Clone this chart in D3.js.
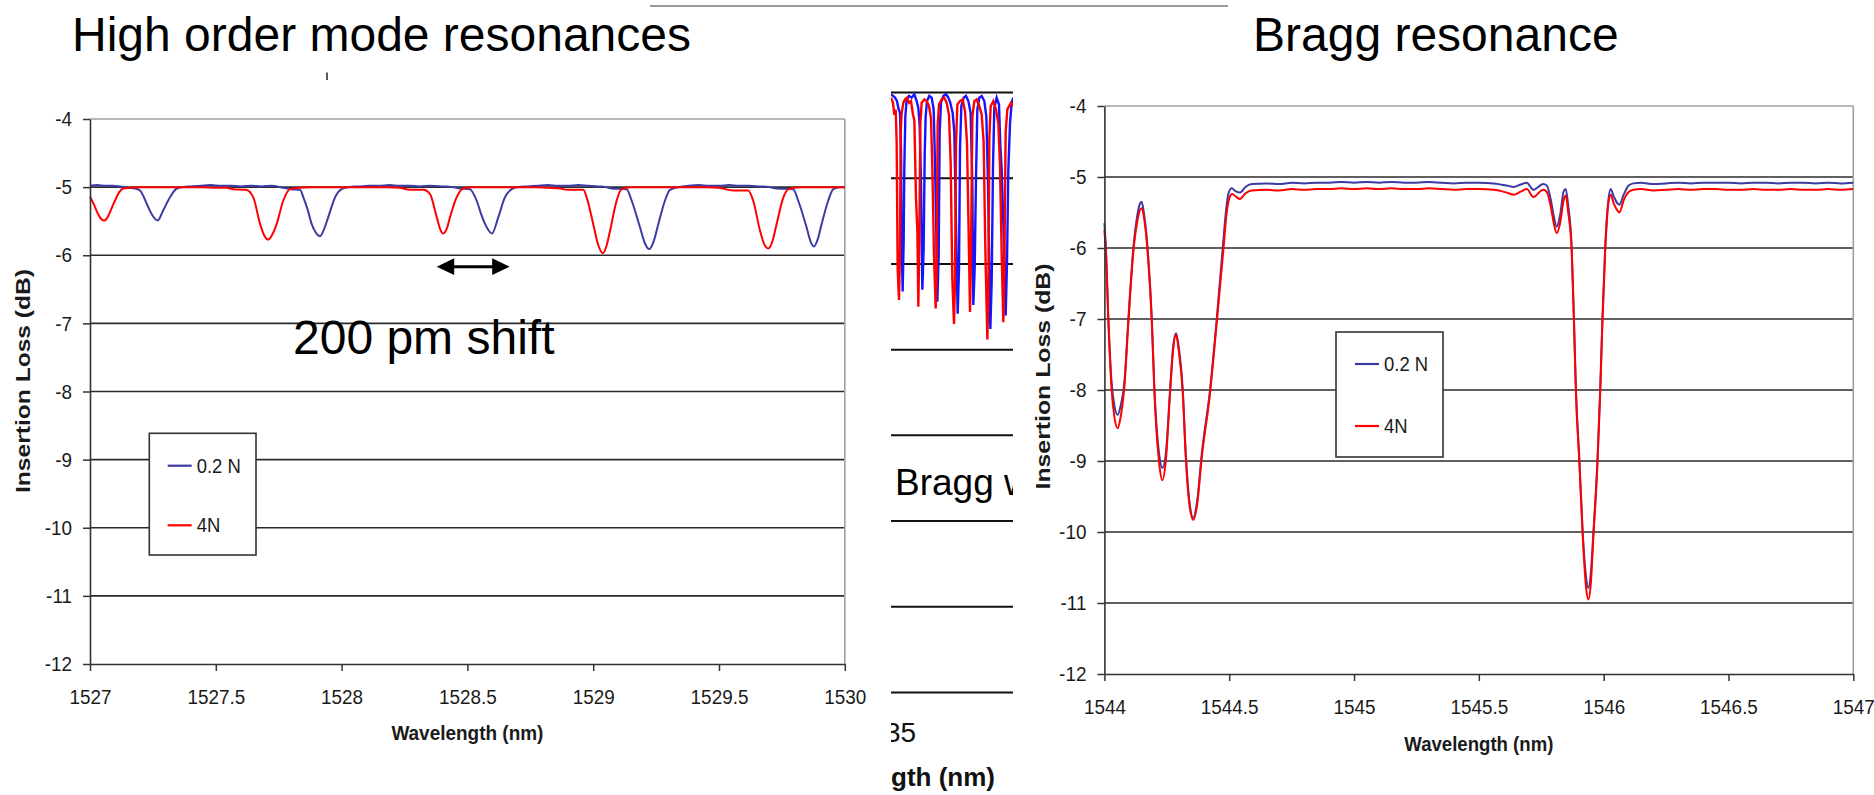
<!DOCTYPE html>
<html>
<head>
<meta charset="utf-8">
<script src="https://cdn.jsdelivr.net/npm/d3@7"></script>
<style>
  body { margin: 0; background: #fff; }
  svg { display: block; }
  text { font-family: "Liberation Sans", Arial, Helvetica, sans-serif; }
</style>
</head>
<body>
<svg id="fig" width="1874" height="795"></svg>
<script>
// ---- axis ticks and labels ----
const lossTicks = [-4, -5, -6, -7, -8, -9, -10, -11, -12];
const hiWaveTicks = [1527, 1527.5, 1528, 1528.5, 1529, 1529.5, 1530];
const braggWaveTicks = [1544, 1544.5, 1545, 1545.5, 1546, 1546.5, 1547];
const seriesLabels = ["0.2 N", "4N"];
const sideLossGrid = [0, -5, -10, -15, -20, -25, -30, -35];
const sideWaveTick = [1535];
const shiftArrow = [1528.378, 1528.668];

// ---- high order mode resonances: [wavelength nm, insertion loss dB] ----
const hiBlue = [
  [1527.000,-4.98],[1527.030,-4.97],[1527.060,-4.98],[1527.090,-4.98],[1527.120,-4.99],[1527.150,-5.01],
  [1527.180,-5.02],[1527.199,-5.05],[1527.212,-5.13],[1527.225,-5.24],[1527.249,-5.42],[1527.269,-5.49],
  [1527.291,-5.34],[1527.318,-5.15],[1527.345,-5.02],[1527.370,-5.00],[1527.400,-4.99],[1527.440,-4.98],
  [1527.480,-4.97],[1527.520,-4.98],[1527.560,-4.98],[1527.600,-4.99],[1527.640,-4.98],[1527.680,-4.99],
  [1527.720,-4.98],[1527.768,-5.01],[1527.800,-5.03],[1527.835,-5.04],[1527.848,-5.15],[1527.865,-5.33],
  [1527.881,-5.54],[1527.898,-5.67],[1527.914,-5.72],[1527.930,-5.62],[1527.947,-5.44],[1527.974,-5.15],
  [1528.000,-5.03],[1528.030,-5.00],[1528.070,-4.99],[1528.110,-4.98],[1528.150,-4.98],[1528.190,-4.97],
  [1528.230,-4.98],[1528.270,-4.98],[1528.310,-4.99],[1528.350,-4.98],[1528.400,-4.99],[1528.440,-5.00],
  [1528.471,-5.02],[1528.510,-5.03],[1528.537,-5.20],[1528.555,-5.40],[1528.570,-5.54],[1528.598,-5.68],
  [1528.623,-5.44],[1528.649,-5.15],[1528.676,-5.03],[1528.700,-5.00],[1528.740,-4.99],[1528.780,-4.98],
  [1528.820,-4.97],[1528.860,-4.98],[1528.900,-4.98],[1528.940,-4.97],[1528.980,-4.98],[1529.020,-4.99],
  [1529.050,-5.00],[1529.073,-5.02],[1529.133,-5.03],[1529.153,-5.20],[1529.186,-5.59],[1529.205,-5.82],
  [1529.223,-5.91],[1529.240,-5.80],[1529.259,-5.54],[1529.285,-5.20],[1529.305,-5.04],[1529.340,-5.00],
  [1529.380,-4.98],[1529.420,-4.97],[1529.460,-4.98],[1529.500,-4.98],[1529.540,-4.97],[1529.580,-4.98],
  [1529.620,-4.98],[1529.660,-4.99],[1529.700,-5.00],[1529.729,-5.02],[1529.795,-5.03],[1529.815,-5.20],
  [1529.848,-5.59],[1529.864,-5.80],[1529.877,-5.87],[1529.893,-5.76],[1529.908,-5.54],[1529.934,-5.20],
  [1529.954,-5.03],[1529.980,-5.00],[1530.000,-5.00]
];
const hiRed = [
  [1527.000,-5.14],[1527.015,-5.25],[1527.030,-5.38],[1527.045,-5.47],[1527.057,-5.49],[1527.070,-5.44],
  [1527.085,-5.32],[1527.099,-5.20],[1527.115,-5.08],[1527.132,-5.02],[1527.160,-5.01],[1527.200,-5.00],
  [1527.250,-5.00],[1527.300,-5.00],[1527.350,-5.00],[1527.400,-5.00],[1527.450,-5.00],[1527.500,-5.01],
  [1527.540,-5.01],[1527.570,-5.03],[1527.620,-5.04],[1527.649,-5.15],[1527.676,-5.54],[1527.694,-5.72],
  [1527.709,-5.77],[1527.724,-5.70],[1527.742,-5.54],[1527.768,-5.20],[1527.795,-5.03],[1527.830,-5.01],
  [1527.880,-5.00],[1527.930,-5.00],[1527.980,-5.00],[1528.030,-5.00],[1528.080,-5.00],[1528.130,-5.00],
  [1528.180,-5.00],[1528.230,-5.01],[1528.272,-5.04],[1528.325,-5.04],[1528.351,-5.10],[1528.378,-5.44],
  [1528.392,-5.62],[1528.404,-5.68],[1528.418,-5.61],[1528.431,-5.44],[1528.457,-5.15],[1528.484,-5.02],
  [1528.520,-5.00],[1528.570,-5.00],[1528.620,-5.00],[1528.670,-5.00],[1528.720,-5.00],[1528.770,-5.00],
  [1528.820,-5.01],[1528.870,-5.02],[1528.895,-5.04],[1528.961,-5.04],[1528.974,-5.15],[1529.000,-5.54],
  [1529.020,-5.85],[1529.038,-5.97],[1529.053,-5.86],[1529.067,-5.64],[1529.093,-5.20],[1529.113,-5.03],
  [1529.150,-5.00],[1529.200,-5.00],[1529.250,-5.00],[1529.300,-5.00],[1529.350,-5.00],[1529.400,-5.00],
  [1529.450,-5.00],[1529.500,-5.01],[1529.557,-5.05],[1529.616,-5.05],[1529.636,-5.20],[1529.663,-5.64],
  [1529.680,-5.84],[1529.696,-5.90],[1529.712,-5.80],[1529.729,-5.54],[1529.756,-5.15],[1529.776,-5.03],
  [1529.820,-5.00],[1529.870,-5.00],[1529.920,-5.00],[1529.970,-5.00],[1530.000,-5.00]
];

// ---- Bragg resonance: [wavelength nm, insertion loss dB] ----
const braggBlue = [
  [1544.000,-5.65],[1544.006,-6.00],[1544.016,-7.00],[1544.029,-7.90],[1544.040,-8.22],[1544.053,-8.35],
  [1544.065,-8.22],[1544.080,-7.90],[1544.096,-7.00],[1544.116,-6.00],[1544.130,-5.58],[1544.142,-5.38],
  [1544.149,-5.35],[1544.158,-5.50],[1544.173,-6.00],[1544.190,-7.00],[1544.200,-7.95],[1544.220,-8.92],
  [1544.232,-9.10],[1544.246,-8.90],[1544.263,-8.00],[1544.275,-7.40],[1544.287,-7.20],[1544.298,-7.40],
  [1544.314,-8.00],[1544.326,-8.90],[1544.340,-9.55],[1544.356,-9.80],[1544.372,-9.55],[1544.390,-8.90],
  [1544.423,-8.00],[1544.450,-7.00],[1544.474,-6.00],[1544.488,-5.45],[1544.497,-5.23],[1544.510,-5.16],
  [1544.525,-5.20],[1544.543,-5.22],[1544.565,-5.14],[1544.590,-5.10],[1544.650,-5.09],[1544.700,-5.10],
  [1544.750,-5.08],[1544.800,-5.09],[1544.850,-5.08],[1544.900,-5.08],[1544.950,-5.07],[1545.000,-5.08],
  [1545.050,-5.07],[1545.100,-5.08],[1545.150,-5.07],[1545.200,-5.08],[1545.250,-5.08],[1545.300,-5.07],
  [1545.350,-5.08],[1545.400,-5.09],[1545.450,-5.08],[1545.500,-5.08],[1545.560,-5.09],[1545.612,-5.12],
  [1545.640,-5.14],[1545.665,-5.11],[1545.692,-5.08],[1545.718,-5.18],[1545.758,-5.10],[1545.772,-5.12],
  [1545.790,-5.35],[1545.800,-5.55],[1545.812,-5.70],[1545.825,-5.55],[1545.840,-5.20],[1545.848,-5.17],
  [1545.858,-5.40],[1545.872,-6.00],[1545.881,-7.00],[1545.889,-8.00],[1545.903,-9.00],[1545.916,-10.00],
  [1545.930,-10.65],[1545.939,-10.79],[1545.948,-10.60],[1545.959,-10.00],[1545.975,-9.00],[1545.986,-8.00],
  [1545.995,-7.00],[1546.006,-6.00],[1546.018,-5.35],[1546.028,-5.17],[1546.040,-5.27],[1546.055,-5.37],
  [1546.063,-5.39],[1546.080,-5.25],[1546.100,-5.12],[1546.119,-5.09],[1546.150,-5.08],[1546.200,-5.10],
  [1546.250,-5.09],[1546.300,-5.08],[1546.350,-5.09],[1546.400,-5.08],[1546.450,-5.08],[1546.500,-5.08],
  [1546.550,-5.09],[1546.600,-5.08],[1546.650,-5.08],[1546.700,-5.09],[1546.750,-5.08],[1546.800,-5.08],
  [1546.850,-5.09],[1546.900,-5.08],[1546.950,-5.09],[1547.000,-5.08]
];
const braggRed = [
  [1544.000,-5.75],[1544.006,-6.05],[1544.016,-7.05],[1544.029,-8.00],[1544.040,-8.38],[1544.053,-8.54],
  [1544.065,-8.38],[1544.080,-7.95],[1544.096,-7.05],[1544.116,-6.05],[1544.132,-5.62],[1544.143,-5.46],
  [1544.150,-5.44],[1544.160,-5.60],[1544.173,-6.05],[1544.190,-7.05],[1544.200,-8.00],[1544.220,-9.05],
  [1544.232,-9.27],[1544.246,-9.00],[1544.263,-8.05],[1544.275,-7.45],[1544.287,-7.22],[1544.298,-7.45],
  [1544.314,-8.05],[1544.326,-8.95],[1544.340,-9.60],[1544.356,-9.83],[1544.372,-9.60],[1544.390,-8.95],
  [1544.423,-8.05],[1544.450,-7.05],[1544.476,-6.05],[1544.490,-5.50],[1544.500,-5.30],[1544.512,-5.24],
  [1544.528,-5.28],[1544.543,-5.31],[1544.565,-5.23],[1544.590,-5.19],[1544.650,-5.18],[1544.700,-5.19],
  [1544.750,-5.17],[1544.800,-5.18],[1544.850,-5.17],[1544.900,-5.17],[1544.950,-5.16],[1545.000,-5.17],
  [1545.050,-5.16],[1545.100,-5.17],[1545.150,-5.16],[1545.200,-5.17],[1545.250,-5.17],[1545.300,-5.16],
  [1545.350,-5.17],[1545.400,-5.18],[1545.450,-5.17],[1545.500,-5.17],[1545.560,-5.18],[1545.612,-5.22],
  [1545.640,-5.25],[1545.665,-5.21],[1545.692,-5.17],[1545.718,-5.28],[1545.758,-5.18],[1545.772,-5.21],
  [1545.790,-5.45],[1545.800,-5.65],[1545.812,-5.79],[1545.825,-5.66],[1545.840,-5.32],[1545.848,-5.26],
  [1545.858,-5.50],[1545.872,-6.05],[1545.881,-7.05],[1545.889,-8.05],[1545.903,-9.05],[1545.916,-10.05],
  [1545.930,-10.80],[1545.939,-10.95],[1545.948,-10.75],[1545.959,-10.05],[1545.975,-9.05],[1545.986,-8.05],
  [1545.995,-7.05],[1546.006,-6.05],[1546.018,-5.40],[1546.028,-5.25],[1546.040,-5.37],[1546.055,-5.47],
  [1546.063,-5.50],[1546.080,-5.33],[1546.100,-5.21],[1546.119,-5.18],[1546.150,-5.17],[1546.200,-5.19],
  [1546.250,-5.18],[1546.300,-5.17],[1546.350,-5.18],[1546.400,-5.17],[1546.450,-5.17],[1546.500,-5.18],
  [1546.550,-5.18],[1546.600,-5.17],[1546.650,-5.18],[1546.700,-5.18],[1546.750,-5.17],[1546.800,-5.18],
  [1546.850,-5.18],[1546.900,-5.17],[1546.950,-5.18],[1547.000,-5.17]
];

// ---- partly hidden wide-band spectrum between the two charts ----
const sideBlue = [
  [1535.036,-0.1],[1535.048,-0.2],[1535.060,-0.3],[1535.072,-0.5],[1535.080,-0.9],[1535.090,-1.2],
  [1535.096,-3.3],[1535.100,-8.8],[1535.106,-11.6],[1535.112,-8.6],[1535.116,-4.3],[1535.122,-1.4],
  [1535.130,-0.4],[1535.144,-0.2],[1535.160,-0.3],[1535.176,-0.1],[1535.190,-0.5],[1535.200,-0.9],
  [1535.208,-1.9],[1535.216,-5.3],[1535.224,-11.5],[1535.232,-9.1],[1535.238,-3.7],[1535.244,-1.4],
  [1535.252,-0.5],[1535.266,-0.2],[1535.280,-0.3],[1535.292,-1.0],[1535.300,-4.1],[1535.308,-8.2],
  [1535.314,-12.2],[1535.322,-9.5],[1535.328,-2.3],[1535.336,-0.6],[1535.350,-0.2],[1535.366,-0.1],
  [1535.380,-0.3],[1535.392,-0.6],[1535.406,-1.2],[1535.416,-2.3],[1535.426,-7.6],[1535.436,-12.9],
  [1535.444,-10.3],[1535.450,-3.3],[1535.458,-0.8],[1535.472,-0.3],[1535.486,-0.2],[1535.500,-0.5],
  [1535.514,-1.2],[1535.524,-5.3],[1535.530,-12.4],[1535.538,-10.3],[1535.546,-5.0],[1535.554,-1.0],
  [1535.566,-0.3],[1535.580,-0.2],[1535.596,-0.5],[1535.608,-1.4],[1535.618,-5.3],[1535.626,-10.3],
  [1535.632,-13.8],[1535.640,-11.1],[1535.648,-4.3],[1535.656,-0.9],[1535.670,-0.3],[1535.684,-0.7],
  [1535.692,-3.1],[1535.700,-4.5],[1535.710,-7.6],[1535.718,-10.3],[1535.724,-13.0],[1535.732,-9.9],
  [1535.740,-4.5],[1535.750,-1.8],[1535.760,-0.6],[1535.770,-0.3]
];
const sideRed = [
  [1535.036,-0.3],[1535.048,-0.6],[1535.056,-1.3],[1535.064,-1.0],[1535.070,-2.9],[1535.076,-10.3],
  [1535.084,-12.1],[1535.090,-9.1],[1535.094,-2.3],[1535.100,-1.2],[1535.110,-0.6],[1535.120,-0.4],
  [1535.132,-0.3],[1535.144,-0.6],[1535.156,-0.5],[1535.168,-1.3],[1535.176,-1.6],[1535.186,-6.2],
  [1535.194,-8.0],[1535.200,-12.5],[1535.206,-8.6],[1535.212,-1.8],[1535.220,-0.6],[1535.236,-0.4],
  [1535.250,-0.5],[1535.264,-0.8],[1535.276,-1.5],[1535.284,-4.3],[1535.294,-9.5],[1535.304,-12.6],
  [1535.310,-10.3],[1535.316,-1.9],[1535.324,-0.7],[1535.340,-0.4],[1535.356,-0.3],[1535.370,-0.6],
  [1535.384,-1.3],[1535.394,-4.1],[1535.404,-10.9],[1535.414,-13.5],[1535.420,-11.1],[1535.426,-3.1],
  [1535.434,-0.7],[1535.450,-0.5],[1535.466,-0.4],[1535.480,-1.1],[1535.492,-2.9],[1535.502,-8.2],
  [1535.510,-12.8],[1535.516,-9.5],[1535.524,-1.4],[1535.536,-0.5],[1535.550,-0.4],[1535.566,-0.8],
  [1535.580,-1.3],[1535.592,-2.9],[1535.602,-9.1],[1535.614,-14.4],[1535.620,-11.9],[1535.626,-2.7],
  [1535.634,-0.8],[1535.650,-0.5],[1535.666,-1.0],[1535.680,-1.8],[1535.690,-4.3],[1535.700,-9.4],
  [1535.710,-13.4],[1535.716,-10.3],[1535.724,-2.3],[1535.734,-1.0],[1535.744,-0.8],[1535.756,-0.6],
  [1535.770,-0.8]
];

const BLUE = "#3b3ba3", RED = "#ff0000", GRID = "#2b2b2b", FRAME = "#a0a0a0", INK = "#1a1a1a";
const svg = d3.select("#fig");

// one insertion-loss chart with gridlines, both traces, axes, legend and titles
function lossChart(cfg) {
  const g = svg.append("g");
  const x = d3.scaleLinear().domain(cfg.xDomain).range(cfg.xRange);
  const y = d3.scaleLinear().domain([-12, -4]).range(cfg.yRange);
  const [x0, x1] = x.range();

  g.append("g").selectAll("line").data(lossTicks.slice(1, -1)).join("line")
    .attr("x1", x0).attr("x2", x1)
    .attr("y1", d => y(d)).attr("y2", d => y(d))
    .attr("stroke", GRID).attr("stroke-width", 1.6);
  g.append("line").attr("x1", x0).attr("x2", x1).attr("y1", y(-4)).attr("y2", y(-4))
    .attr("stroke", FRAME).attr("stroke-width", 1.6);
  g.append("line").attr("x1", x1).attr("x2", x1).attr("y1", y(-4)).attr("y2", y(-12))
    .attr("stroke", FRAME).attr("stroke-width", 1.6);

  const line = d3.line().x(d => x(d[0])).y(d => y(d[1])).curve(d3.curveMonotoneX);
  g.append("path").datum(cfg.blue).attr("d", line)
    .attr("fill", "none").attr("stroke", BLUE).attr("stroke-width", 2).attr("stroke-linejoin", "round");
  g.append("path").datum(cfg.red).attr("d", line)
    .attr("fill", "none").attr("stroke", RED).attr("stroke-width", 2).attr("stroke-linejoin", "round");

  const yAxis = g.append("g").attr("transform", `translate(${x0},0)`)
    .call(d3.axisLeft(y).tickValues(lossTicks).tickSize(7).tickSizeOuter(0).tickPadding(13)
      .tickFormat(d => String(d)));
  const xAxis = g.append("g").attr("transform", `translate(0,${y(-12)})`)
    .call(d3.axisBottom(x).tickValues(cfg.ticks).tickSize(7).tickSizeOuter(0).tickPadding(18)
      .tickFormat(d => String(d)));
  [yAxis, xAxis].forEach(a => {
    a.attr("font-family", null).attr("font-size", null);
    a.select(".domain").attr("stroke", "#333").attr("stroke-width", 1.6);
    a.selectAll(".tick line").attr("stroke", "#333").attr("stroke-width", 1.5);
    a.selectAll(".tick text").attr("fill", INK).attr("font-size", 21)
      .attr("transform", "scale(0.9,1)");
  });

  // legend
  const lg = g.append("g");
  lg.append("rect").attr("x", cfg.legend[0]).attr("y", cfg.legend[1])
    .attr("width", cfg.legend[2]).attr("height", cfg.legend[3])
    .attr("fill", "#fff").attr("stroke", "#333").attr("stroke-width", 1.6);
  const rows = [{ label: seriesLabels[0], color: BLUE, dy: cfg.legendRows[0] },
                { label: seriesLabels[1], color: RED, dy: cfg.legendRows[1] }];
  rows.forEach(r => {
    const lx = cfg.legend[0] + cfg.legendInset;
    lg.append("line").attr("x1", lx).attr("x2", lx + 24)
      .attr("y1", cfg.legend[1] + r.dy).attr("y2", cfg.legend[1] + r.dy)
      .attr("stroke", r.color).attr("stroke-width", 2.2);
    lg.append("text").text(r.label)
      .attr("transform", `translate(${lx + 29},${cfg.legend[1] + r.dy + 7}) scale(0.88,1)`)
      .attr("font-size", 21).attr("fill", INK);
  });

  // axis titles
  g.append("text").text("Wavelength (nm)")
    .attr("x", (x0 + x1) / 2).attr("y", cfg.xTitleY)
    .attr("text-anchor", "middle").attr("font-weight", "bold").attr("font-size", 21)
    .attr("textLength", cfg.xTitleLen).attr("lengthAdjust", "spacingAndGlyphs").attr("fill", INK);
  g.append("text").text("Insertion Loss (dB)")
    .attr("transform", `translate(${cfg.yTitle[0]},${cfg.yTitle[1]}) rotate(-90)`)
    .attr("text-anchor", "middle").attr("font-weight", "bold").attr("font-size", 21)
    .attr("textLength", cfg.yTitle[2]).attr("lengthAdjust", "spacingAndGlyphs").attr("fill", INK);

  return { x, y, g };
}

// ---- partly hidden spectrum in the middle, cut off at both sides ----
(function sidePanel() {
  svg.append("defs").append("clipPath").attr("id", "sideClip")
    .append("rect").attr("x", 891).attr("y", 80).attr("width", 122).attr("height", 715);
  const g = svg.append("g").attr("clip-path", "url(#sideClip)");
  const x = d3.scaleLinear().domain([1535, 1535.81]).range([885, 1020]);
  const y = d3.scaleLinear().domain([-35, 0]).range([692.5, 92.5]);
  g.selectAll("line.sg").data(sideLossGrid).join("line")
    .attr("x1", 885).attr("x2", 1020)
    .attr("y1", d => y(d)).attr("y2", d => y(d))
    .attr("stroke", "#111").attr("stroke-width", 2);
  g.append("text").text("Bragg w").attr("x", 895).attr("y", 495)
    .attr("font-size", 37).attr("fill", "#000");
  const line = d3.line().x(d => x(d[0])).y(d => y(d[1]));
  g.append("path").datum(sideBlue).attr("d", line)
    .attr("fill", "none").attr("stroke", "#1414ff").attr("stroke-width", 2.4);
  g.append("path").datum(sideRed).attr("d", line)
    .attr("fill", "none").attr("stroke", RED).attr("stroke-width", 2.4);
  g.selectAll("text.tk").data(sideWaveTick).join("text")
    .attr("x", d => x(d)).attr("y", 741.5).attr("text-anchor", "middle")
    .attr("font-size", 28).attr("fill", "#111").text(d => String(d));
  g.append("text").text("Wavelength (nm)").attr("x", 995).attr("y", 786)
    .attr("text-anchor", "end").attr("font-weight", "bold").attr("font-size", 26).attr("fill", "#111");
})();

// ---- left: high order mode resonances ----
const hi = lossChart({
  xDomain: [1527, 1530], xRange: [90, 844.8], yRange: [664, 119],
  ticks: hiWaveTicks, blue: hiBlue, red: hiRed,
  legend: [149.3, 433.3, 106.7, 121.7], legendInset: 18.4, legendRows: [32.4, 92],
  xTitleY: 740, xTitleLen: 152, yTitle: [30, 381, 224]
});

// ---- right: Bragg resonance ----
lossChart({
  xDomain: [1544, 1547], xRange: [1104.4, 1853.3], yRange: [674, 106],
  ticks: braggWaveTicks, blue: braggBlue, red: braggRed,
  legend: [1336, 332, 107, 125], legendInset: 19, legendRows: [32, 94],
  xTitleY: 750.5, xTitleLen: 149, yTitle: [1050, 376.5, 226]
});

// ---- headings and annotations ----
svg.append("text").text("High order mode resonances").attr("x", 72).attr("y", 51)
  .attr("font-size", 48).attr("fill", "#000");
svg.append("text").text("Bragg resonance").attr("x", 1253).attr("y", 51)
  .attr("font-size", 48).attr("fill", "#000");
svg.append("line").attr("x1", 650).attr("x2", 1228).attr("y1", 6).attr("y2", 6)
  .attr("stroke", "#9a9a9a").attr("stroke-width", 2);
svg.append("line").attr("x1", 327).attr("x2", 327).attr("y1", 72.5).attr("y2", 80)
  .attr("stroke", "#222").attr("stroke-width", 1.5);

// double arrow marking the resonance shift
const ax0 = hi.x(shiftArrow[0]), ax1 = hi.x(shiftArrow[1]), ay = 266.7;
svg.append("line").attr("x1", ax0 + 10).attr("x2", ax1 - 10).attr("y1", ay).attr("y2", ay)
  .attr("stroke", "#000").attr("stroke-width", 3);
svg.append("path")
  .attr("d", `M${ax0},${ay} L${ax0 + 17.5},${ay - 8.4} L${ax0 + 17.5},${ay + 8.4} Z ` +
             `M${ax1},${ay} L${ax1 - 17.5},${ay - 8.4} L${ax1 - 17.5},${ay + 8.4} Z`)
  .attr("fill", "#000");
svg.append("text").text("200 pm shift").attr("x", 293).attr("y", 353.5)
  .attr("font-size", 48).attr("fill", "#000");
</script>
</body>
</html>
